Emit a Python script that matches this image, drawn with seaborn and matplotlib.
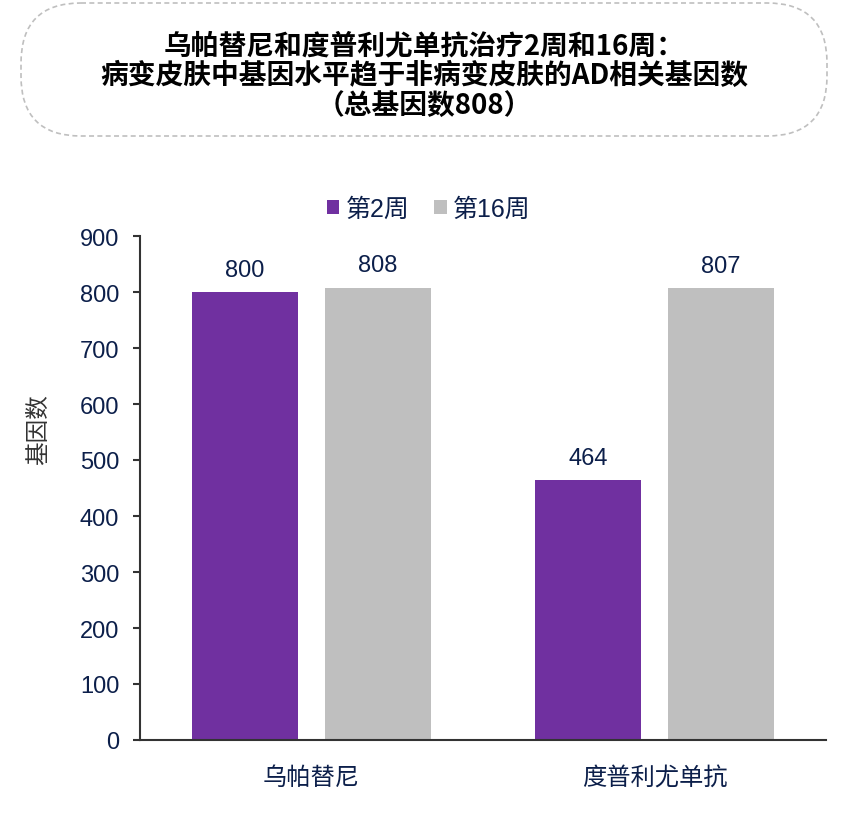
import numpy as np
import pandas as pd
import matplotlib
matplotlib.use("Agg")
import matplotlib.pyplot as plt
import seaborn as sns
from matplotlib.patches import FancyBboxPatch

# data
drugs = ["乌帕替尼", "度普利尤单抗"]
weeks = ["第2周", "第16周"]
week2_counts = [800, 464]
week16_counts = [808, 807]

title = "乌帕替尼和度普利尤单抗治疗2周和16周：\n病变皮肤中基因水平趋于非病变皮肤的AD相关基因数\n（总基因数808）"
ylabel = "基因数"

PURPLE = "#7030A0"
GREY = "#BFBFBF"
NAVY = "#0C1F4A"
AXIS = "#333333"
CJK = ["Noto Sans CJK SC", "DejaVu Sans"]

sns.set_theme(style="white")
plt.rcParams["font.family"] = ["Liberation Sans", "Noto Sans CJK SC", "DejaVu Sans"]

df = pd.DataFrame({
    "drug": drugs * 2,
    "week": [weeks[0]] * 2 + [weeks[1]] * 2,
    "count": week2_counts + week16_counts,
})

W, H = 848, 829
fig = plt.figure(figsize=(W / 100, H / 100), dpi=100)

# title box drawn in pixel coordinates on a background axes
bg = fig.add_axes([0, 0, 1, 1])
bg.set_xlim(0, W)
bg.set_ylim(H, 0)
bg.axis("off")
box = FancyBboxPatch((21, 4), 806, 133,
                     boxstyle="round,pad=0,rounding_size=60",
                     facecolor="white", edgecolor="#BFBFBF",
                     linestyle=(0, (3, 2)), linewidth=1.2)
bg.add_patch(box)
bg.text(424, 76, title, ha="center", va="center", fontsize=20,
        fontweight="bold", color="black", linespacing=1.08, family=CJK)

ax = fig.add_axes([140 / W, (H - 741) / H, 686 / W, 504 / H])
sns.barplot(data=df, x="drug", y="count", hue="week", order=drugs,
            hue_order=weeks, palette=[PURPLE, GREY], width=0.776,
            gap=0.21, saturation=1, linewidth=0, ax=ax)

for cont in ax.containers:
    ax.bar_label(cont, fmt="%d", padding=8, fontsize=17, color=NAVY)

ax.set_xlim(-0.5, 1.5)
ax.set_ylim(0, 900)
ax.set_yticks(np.arange(0, 901, 100))
ax.set_xlabel("")
ax.set_ylabel(ylabel, fontsize=17, color=AXIS, family=CJK)
ax.yaxis.set_label_coords(-0.131, 0.617)

sns.despine(ax=ax)
for side in ["left", "bottom"]:
    ax.spines[side].set_color(AXIS)
    ax.spines[side].set_linewidth(1.5)

ax.tick_params(axis="y", left=True, length=5, width=1.5, color=AXIS,
               pad=10, labelsize=17, labelcolor=NAVY)
ax.tick_params(axis="x", bottom=False, length=0, pad=19, labelsize=17.5,
               labelcolor=NAVY)

leg = ax.legend(loc="center", bbox_to_anchor=(0.421, 1.0536), ncol=2,
                frameon=False, fontsize=18, handlelength=0.5,
                handleheight=0.5, handletextpad=0.25, columnspacing=1.0)
for t in leg.get_texts():
    t.set_color(NAVY)

fig.savefig("out.png", dpi=100)
